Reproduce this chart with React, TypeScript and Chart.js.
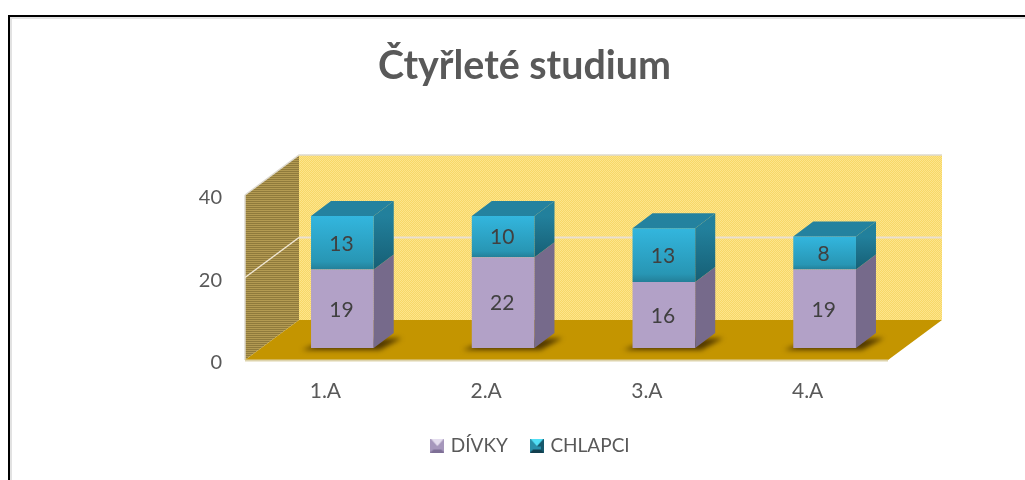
import React, { useEffect, useRef } from "react";
import { Chart, registerables } from "chart.js";

Chart.register(...registerables);

const categories = ["1.A", "2.A", "3.A", "4.A"];
const divky = [19, 22, 16, 19];
const chlapci = [13, 10, 13, 8];
const yTicks = [0, 20, 40];
const seriesNames = ["DÍVKY", "CHLAPCI"];

const FONT = "Lato, 'Open Sans', sans-serif";
const WALL_DX = 54;
const WALL_DY = -40;
const BAR_OFF_X = 17;
const BAR_OFF_Y = -12;
const BAR_DX = 20;
const BAR_DY = -15;

function makePattern(w: number, h: number, draw: (c: CanvasRenderingContext2D) => void) {
  const cv = document.createElement("canvas");
  cv.width = w;
  cv.height = h;
  const c = cv.getContext("2d")!;
  draw(c);
  return cv;
}

const wallTile = makePattern(2, 2, (c) => {
  c.fillStyle = "#F7D768";
  c.fillRect(0, 0, 2, 2);
  c.fillStyle = "#FDE58C";
  c.fillRect(0, 0, 1, 1);
  c.fillRect(1, 1, 1, 1);
});

const sideTile = makePattern(2, 2, (c) => {
  c.fillStyle = "#B39A52";
  c.fillRect(0, 0, 2, 1);
  c.fillStyle = "#8F7A3C";
  c.fillRect(0, 1, 2, 1);
});

function marker(edge: string, top: string, left: string, right: string, bottom: string, face: string) {
  return makePattern(14, 14, (c) => {
    const tri = (pts: number[][], col: string) => {
      c.fillStyle = col;
      c.beginPath();
      pts.forEach((p, i) => (i ? c.lineTo(p[0], p[1]) : c.moveTo(p[0], p[1])));
      c.closePath();
      c.fill();
    };
    c.fillStyle = edge;
    c.fillRect(0, 0, 14, 14);
    tri([[0, 0], [14, 0], [7, 8]], top);
    tri([[0, 0], [7, 8], [0, 14]], left);
    tri([[14, 0], [7, 8], [14, 14]], right);
    tri([[0, 14], [14, 14], [7, 8]], bottom);
    c.fillStyle = face;
    c.fillRect(3, 8, 8, 3);
  });
}

const markerGirls = marker("#8E7EA6", "#E4DDEE", "#A697BC", "#A697BC", "#7E6F96", "#A798BD");
const markerBoys = marker("#1F6E84", "#52DFF5", "#2A8FA8", "#17596C", "#123F4E", "#2A90AC");

function poly(c: CanvasRenderingContext2D, pts: number[][], fill: string | CanvasGradient | CanvasPattern) {
  c.fillStyle = fill;
  c.beginPath();
  pts.forEach((p, i) => (i ? c.lineTo(p[0], p[1]) : c.moveTo(p[0], p[1])));
  c.closePath();
  c.fill();
}

const scene3d = {
  id: "scene3d",
  afterLayout(chart: any) {
    // the title sits a little left of the legend's centre
    chart.titleBlock.left -= 5;
    chart.titleBlock.right -= 5;
    chart.legend.left += 2;
    chart.legend.right += 2;
  },
  beforeDraw(chart: any) {
    const c = chart.ctx as CanvasRenderingContext2D;
    c.save();
    c.fillStyle = "#E2E2E2";
    c.fillRect(10, 17, 1015, 2);
    c.fillRect(10, 17, 2, 463);
    c.fillStyle = "#000000";
    c.fillRect(8, 15, 1017, 2);
    c.fillRect(8, 15, 2, 465);
    c.restore();
  },
  beforeDatasetsDraw(chart: any) {
    const c = chart.ctx as CanvasRenderingContext2D;
    const { left, right, top, bottom } = chart.chartArea;
    const y = chart.scales.y;
    c.save();
    c.fillStyle = c.createPattern(wallTile, "repeat")!;
    c.fillRect(left + WALL_DX, top + WALL_DY, right - left, bottom - top);
    poly(
      c,
      [[left, top], [left + WALL_DX, top + WALL_DY], [left + WALL_DX, bottom + WALL_DY], [left, bottom]],
      c.createPattern(sideTile, "repeat")!
    );
    c.strokeStyle = "#DEDAD0";
    c.lineWidth = 1.5;
    c.beginPath();
    c.moveTo(left, top);
    c.lineTo(left + WALL_DX, top + WALL_DY);
    c.lineTo(right + WALL_DX, top + WALL_DY);
    c.stroke();
    c.beginPath();
    c.moveTo(left, top);
    c.lineTo(left, bottom);
    c.stroke();
    yTicks.slice(1, -1).forEach((v) => {
      const py = y.getPixelForValue(v);
      c.strokeStyle = "#F0E6D2";
      c.lineWidth = 1.5;
      c.beginPath();
      c.moveTo(left, py);
      c.lineTo(left + WALL_DX, py + WALL_DY);
      c.stroke();
      c.strokeStyle = "#EADFD0";
      c.lineWidth = 2;
      c.beginPath();
      c.moveTo(left + WALL_DX, py + WALL_DY);
      c.lineTo(right + WALL_DX, py + WALL_DY);
      c.stroke();
    });
    poly(
      c,
      [[left, bottom], [left + WALL_DX, bottom + WALL_DY], [right + WALL_DX, bottom + WALL_DY], [right, bottom]],
      "#C49500"
    );
    c.strokeStyle = "#DDD3AC";
    c.lineWidth = 2;
    c.beginPath();
    c.moveTo(left, bottom + 0.5);
    c.lineTo(right, bottom + 0.5);
    c.stroke();
    const metas = chart.getDatasetMeta(0).data;
    metas.forEach((bar: any) => {
      const l = bar.x - bar.width / 2 + BAR_OFF_X;
      const r = bar.x + bar.width / 2 + BAR_OFF_X;
      const b = bar.base + BAR_OFF_Y;
      c.save();
      c.filter = "blur(2.5px)";
      poly(
        c,
        [[l - 9, b + 2], [l + BAR_DX - 6, b + BAR_DY + 8], [r + BAR_DX + 8, b + BAR_DY + 5], [r + 6, b + 2]],
        "rgba(70,48,0,0.9)"
      );
      c.restore();
    });
    c.restore();
    c.save();
    c.translate(BAR_OFF_X, BAR_OFF_Y);
  },
  afterDatasetsDraw(chart: any) {
    const c = chart.ctx as CanvasRenderingContext2D;
    c.restore();
    const girlBars = chart.getDatasetMeta(0).data;
    const boyBars = chart.getDatasetMeta(1).data;
    c.save();
    categories.forEach((_, i) => {
      const g = girlBars[i];
      const t = boyBars[i];
      const r = g.x + g.width / 2 + BAR_OFF_X;
      const l = g.x - g.width / 2 + BAR_OFF_X;
      const yBase = g.base + BAR_OFF_Y;
      const yMid = g.y + BAR_OFF_Y;
      const yTop = t.y + BAR_OFF_Y;
      poly(c, [[r, yBase], [r + BAR_DX, yBase + BAR_DY], [r + BAR_DX, yMid + BAR_DY], [r, yMid]], "#766A8B");
      const grad = c.createLinearGradient(0, yTop, 0, yMid);
      grad.addColorStop(0, "#22809C");
      grad.addColorStop(1, "#165F75");
      poly(c, [[r, yMid], [r + BAR_DX, yMid + BAR_DY], [r + BAR_DX, yTop + BAR_DY], [r, yTop]], grad);
      poly(c, [[l, yTop], [l + BAR_DX, yTop + BAR_DY], [r + BAR_DX, yTop + BAR_DY], [r, yTop]], "#24829F");
    });
    c.fillStyle = "#404040";
    c.font = `21px ${FONT}`;
    c.textAlign = "center";
    c.textBaseline = "middle";
    [divky, chlapci].forEach((vals, ds) => {
      const bars = chart.getDatasetMeta(ds).data;
      vals.forEach((v, i) => {
        const bar = bars[i];
        c.fillText(String(v), bar.x + BAR_OFF_X - 1, (bar.y + bar.base) / 2 + BAR_OFF_Y + 1);
      });
    });
    c.restore();
  },
};

export default function App() {
  const ref = useRef<HTMLCanvasElement | null>(null);
  useEffect(() => {
    const blueFill = (ctx: any) => {
      const chart = ctx.chart;
      const i = ctx.dataIndex;
      if (i === undefined || !chart.scales.y) return "#2BA3C6";
      const ys = chart.scales.y;
      const g = chart.ctx.createLinearGradient(
        0,
        ys.getPixelForValue(divky[i] + chlapci[i]),
        0,
        ys.getPixelForValue(divky[i])
      );
      g.addColorStop(0, "#33B6DE");
      g.addColorStop(0.85, "#2896B4");
      g.addColorStop(1, "#237F98");
      return g;
    };
    const chart = new Chart(ref.current!, {
      type: "bar",
      data: {
        labels: categories,
        datasets: [
          {
            label: seriesNames[0],
            data: divky,
            backgroundColor: "#B2A1C7",
            pointStyle: markerGirls,
            stack: "s",
            barPercentage: 0.39,
            categoryPercentage: 1,
            clip: false,
          },
          {
            label: seriesNames[1],
            data: chlapci,
            backgroundColor: blueFill,
            pointStyle: markerBoys,
            stack: "s",
            barPercentage: 0.39,
            categoryPercentage: 1,
            clip: false,
          },
        ] as any,
      },
      options: {
        responsive: false,
        animation: false,
        layout: { padding: { left: 34, right: 0, top: 0, bottom: 15 } },
        plugins: {
          title: {
            display: true,
            text: "Čtyřleté studium",
            color: "#595959",
            font: { family: FONT, size: 39.4, weight: "bold" },
            padding: { top: 43, bottom: 104.7 },
          },
          legend: {
            position: "bottom",
            labels: {
              usePointStyle: true,
              boxWidth: 8,
              boxHeight: 10,
              padding: 25,
              color: "#595959",
              font: { family: FONT, size: 19 },
              generateLabels: (ch: any) =>
                ch.data.datasets.map((d: any, i: number) => ({
                  text: d.label,
                  fontColor: "#595959",
                  pointStyle: d.pointStyle,
                  datasetIndex: i,
                  hidden: false,
                })),
            },
          },
          tooltip: { enabled: false },
        },
        scales: {
          x: {
            stacked: true,
            grid: { display: false },
            border: { display: false },
            ticks: { color: "#595959", font: { family: FONT, size: 21 }, padding: 11 },
            afterFit: (s: any) => {
              s.height = 51;
            },
          },
          y: {
            stacked: true,
            min: 0,
            max: 40,
            afterBuildTicks: (s: any) => {
              s.ticks = yTicks.map((value) => ({ value }));
            },
            grid: { display: false },
            border: { display: false },
            ticks: { color: "#595959", font: { family: FONT, size: 20 }, padding: 15, labelOffset: 3 },
            afterFit: (s: any) => {
              s.width = 211;
            },
          },
          spacer: {
            position: "right",
            grid: { display: false },
            border: { display: false },
            ticks: { display: false },
            afterFit: (s: any) => {
              s.width = 137;
            },
          },
        },
      } as any,
      plugins: [scene3d],
    });
    return () => chart.destroy();
  }, []);
  return (
    <canvas
      ref={ref}
      width={1025}
      height={480}
      style={{ position: "fixed", left: 0, top: 0, width: 1025, height: 480 }}
    />
  );
}
